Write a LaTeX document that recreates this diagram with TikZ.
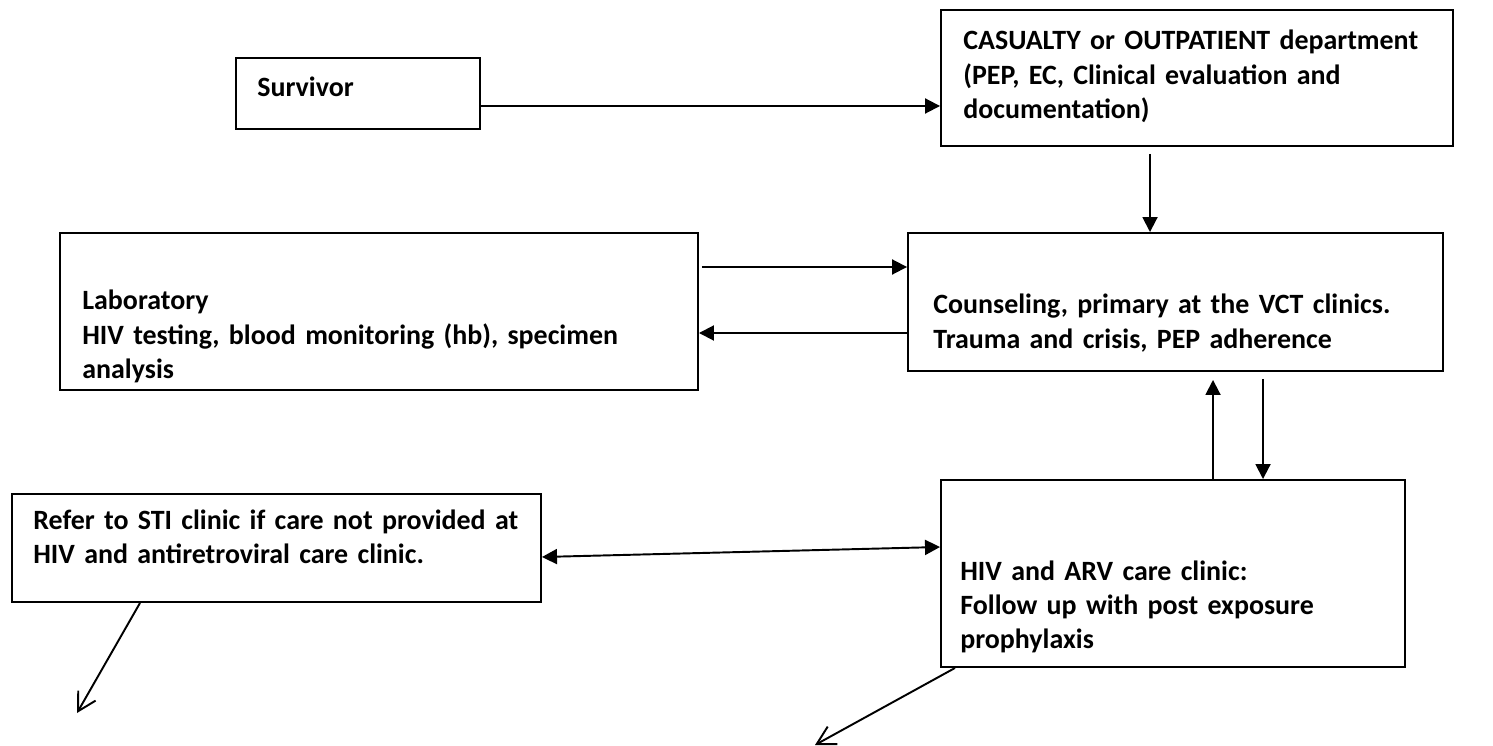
\documentclass[tikz,border=0pt]{standalone}
\usepackage{fontspec}
\setmainfont{Carlito}
\usetikzlibrary{arrows.meta,fit}

\begin{document}
\begin{tikzpicture}[x=0.02cm,y=-0.02cm,
        font=\bfseries\fontsize{15.9}{19.4}\selectfont,
        box/.style={draw,line width=1.1pt,inner sep=0pt},
        txt/.style={anchor=base west,inner sep=0pt,align=left,text width=#1},
        arr/.style={line width=1.1pt,-{Triangle[length=0.3cm,width=0.3cm]}},
        darr/.style={line width=1.1pt,{Triangle[length=0.3cm,width=0.3cm]}-{Triangle[length=0.3cm,width=0.3cm]}},
        oarr/.style={line width=1.1pt,-{Straight Barb[length=0.36cm,width=0.4cm]}}]
        \useasboundingbox (0,0) rectangle (1493,746);

        \node[box,fit={(236,58) (480,129)}] (survivor) {};
        \node[box,fit={(941,10) (1453,146)}] (casualty) {};
        \node[box,fit={(60,233) (698,390)}] (lab) {};
        \node[box,fit={(908,233) (1443,371)}] (counsel) {};
        \node[box,fit={(12,494) (541,602)}] (refer) {};
        \node[box,fit={(941,480) (1405,667)}] (hiv) {};

        \node[txt=4cm] (survivortext) at (257,97) {Survivor};
        \node[txt=10cm] (casualtytext) at (963,50)
            {CASUALTY or OUTPATIENT department\\(PEP, EC, Clinical evaluation and\\documentation)};
        \node[txt=12cm] (labtext) at (82,310)
            {Laboratory\\HIV testing, blood monitoring (hb), specimen\\analysis};
        \node[txt=10cm] (counseltext) at (933,314)
            {Counseling, primary at the VCT clinics.\\Trauma and crisis, PEP adherence};
        \node[txt=10cm] (refertext) at (33,529)
            {Refer to STI clinic if care not provided at\\HIV and antiretroviral care clinic.};
        \node[txt=8cm] (hivtext) at (960,580)
            {HIV and ARV care clinic:\\Follow up with post exposure\\prophylaxis};

        \coordinate (referend) at (77,713);
        \coordinate (hivend) at (815,745);

        \draw[arr] (survivor.east |- 0,106) -- (casualty.west |- 0,106);
        \draw[arr,shorten <=0.14cm] (casualty.south -| 1150,0) -- (counsel.north -| 1150,0);
        \draw[arr,shorten <=0.06cm] (lab.east |- 0,267) -- (counsel.west |- 0,267);
        \draw[arr] (counsel.west |- 0,333) -- (lab.east |- 0,333);
        \draw[arr,shorten >=0.16cm] (hiv.north -| 1213,0) -- (counsel.south -| 1213,0);
        \draw[arr,shorten <=0.14cm] (counsel.south -| 1263,0) -- (hiv.north -| 1263,0);
        \draw[darr] (refer.east |- 0,557) -- (hiv.west |- 0,547);
        \draw[oarr] (refer.south -| 140,0) -- (referend);
        \draw[oarr] (hiv.south -| 955,0) -- (hivend);
\end{tikzpicture}
\end{document}
